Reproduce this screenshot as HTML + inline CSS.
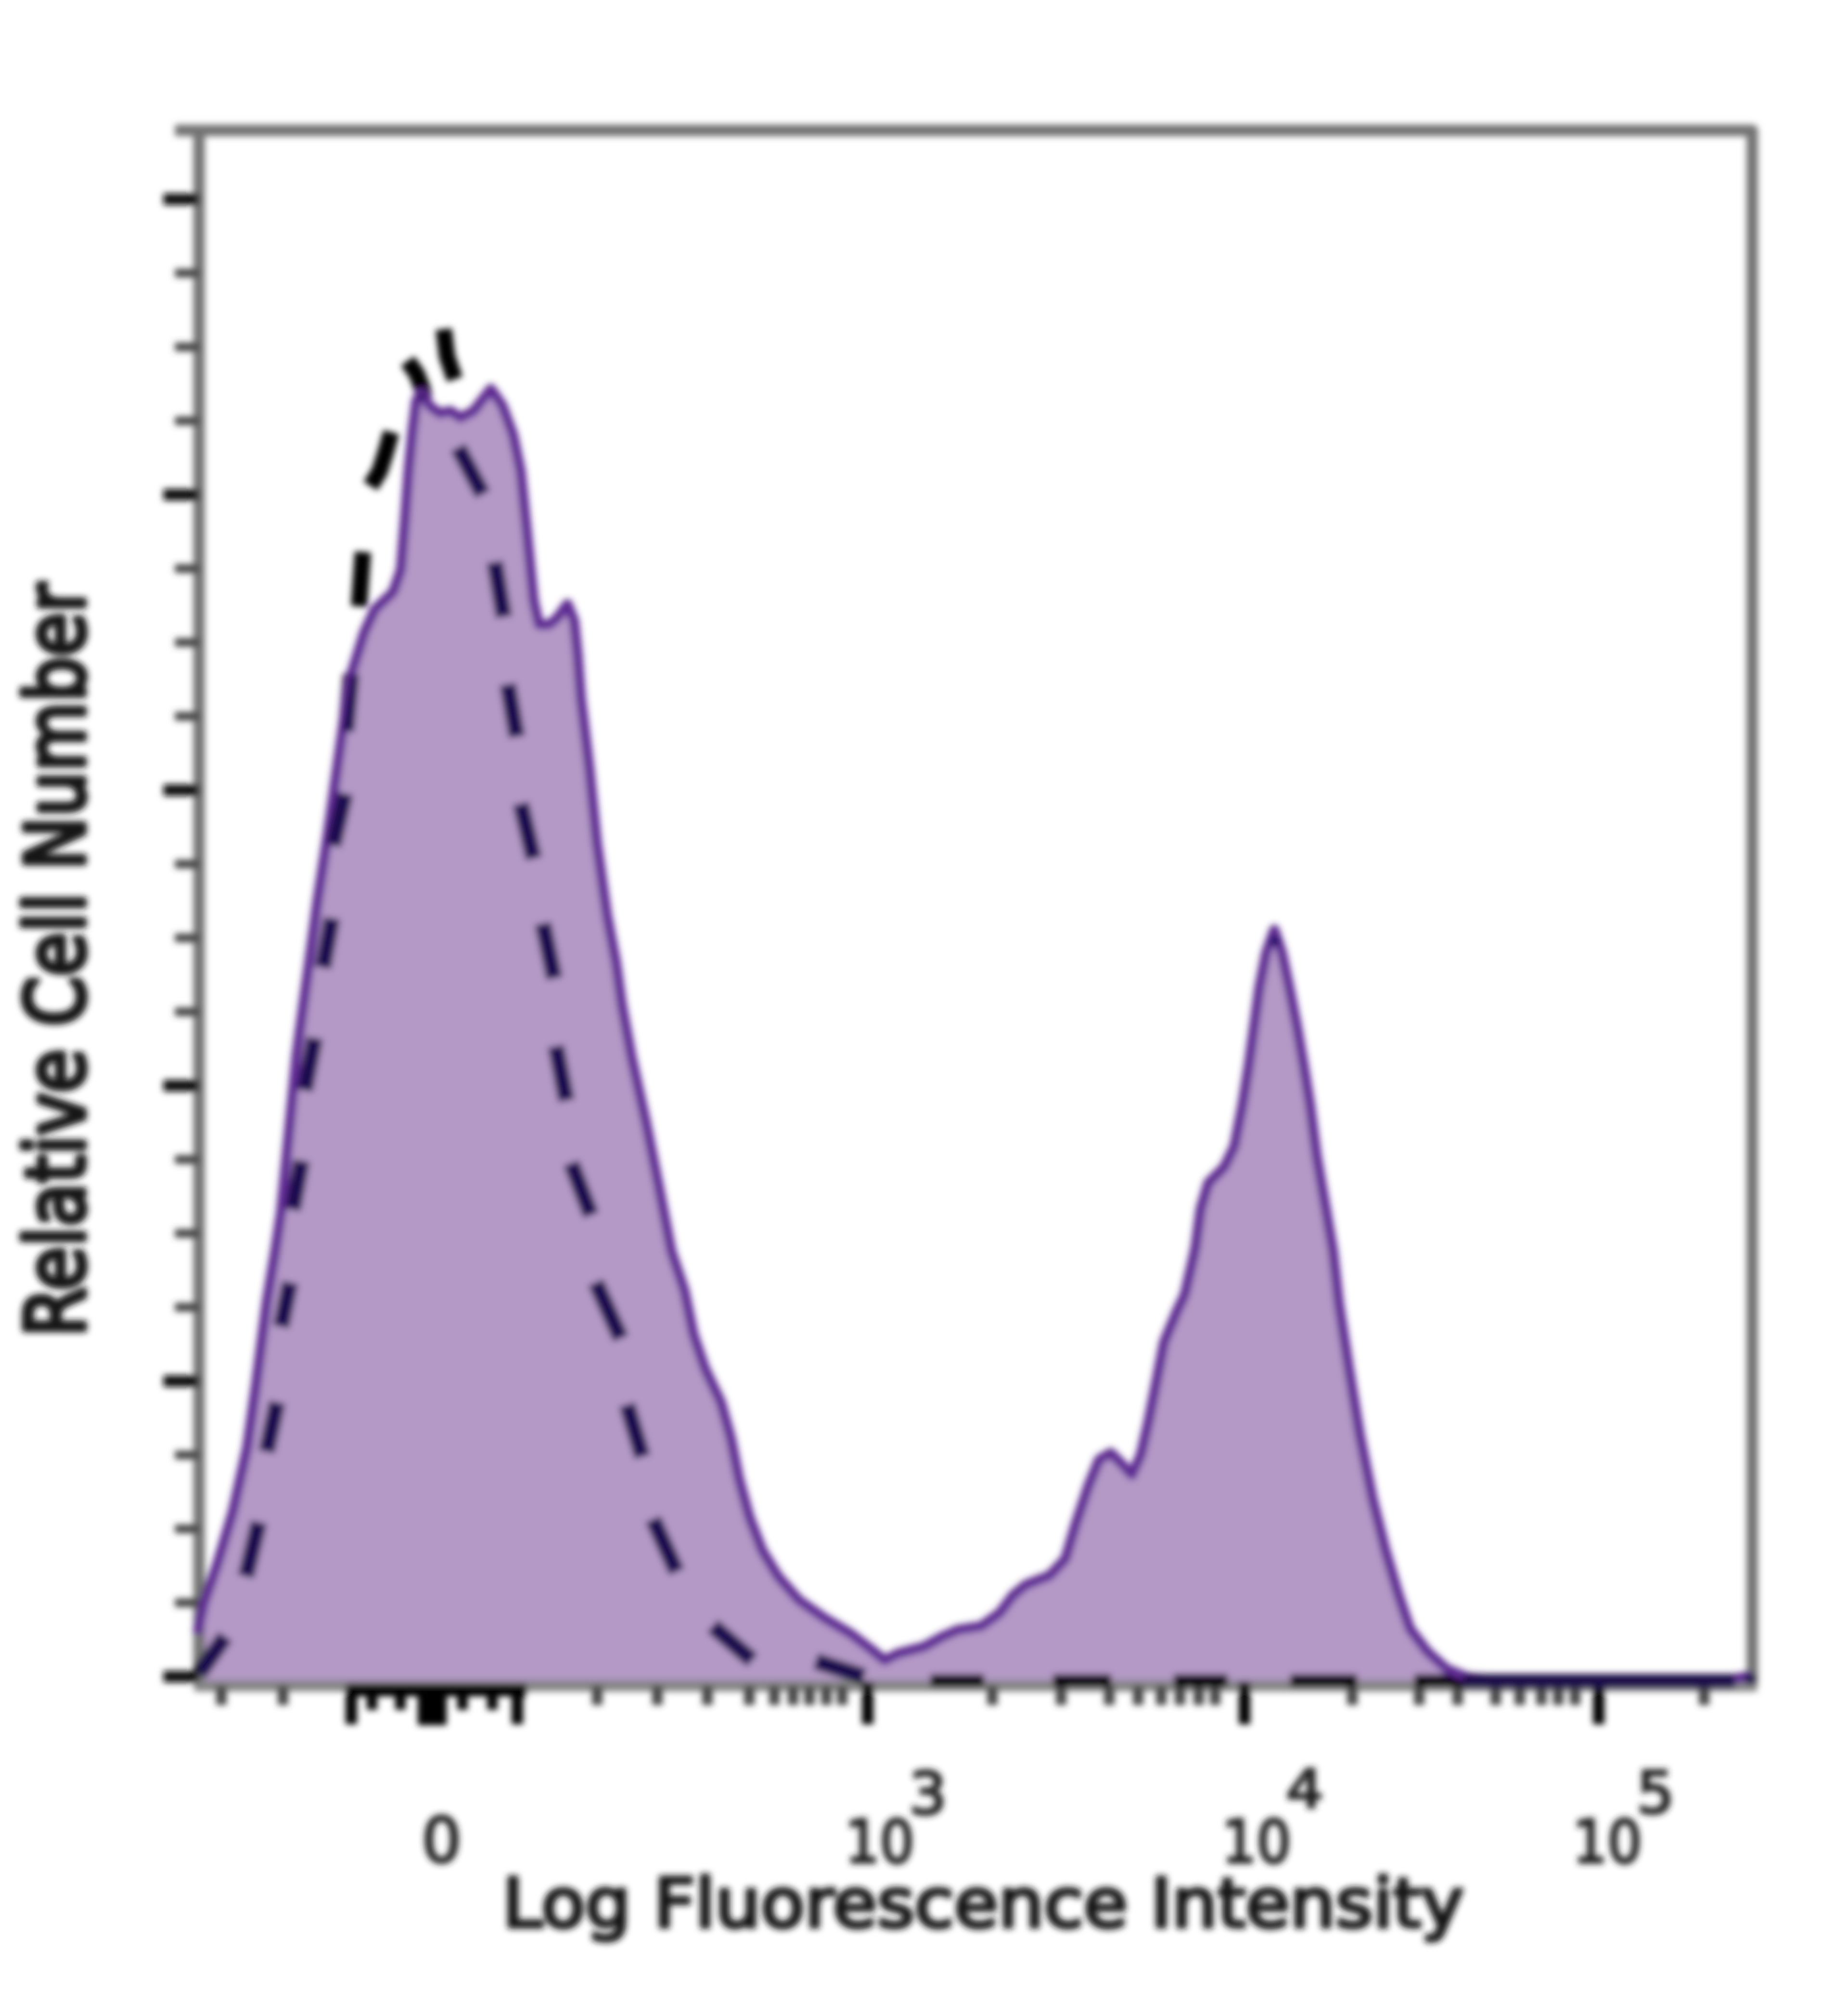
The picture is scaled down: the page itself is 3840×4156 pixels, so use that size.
<!DOCTYPE html>
<html><head><meta charset="utf-8"><title>Histogram</title>
<style>
html,body{margin:0;padding:0;background:#fff;}
body{width:3840px;height:4156px;overflow:hidden;}
svg{display:block;}
text{font-family:"DejaVu Sans","Liberation Sans",sans-serif;fill:#1a1a1a;}
</style></head><body>
<svg width="3840" height="4156" viewBox="0 0 3840 4156">
<defs>
<filter id="b" x="0" y="0" width="3840" height="4156" filterUnits="userSpaceOnUse"><feGaussianBlur stdDeviation="7"/></filter>
<clipPath id="cf"><polygon points="413,3492 410,3395 424,3331 452,3249 484,3141 514,3006 533,2871 554,2708 572,2600 584,2520 600,2358 616,2195 638,2033 660,1871 681,1735 700,1600 719,1466 730,1401 757,1314 779,1266 817,1230 833,1184 841,1087 849,979 857,898 865,833 876,816 892,843 914,859 936,854 957,868 984,854 1020,808 1044,843 1066,903 1082,979 1093,1087 1101,1168 1109,1249 1120,1298 1141,1298 1158,1284 1179,1255 1193,1290 1200,1358 1207,1450 1225,1600 1240,1750 1261,1900 1280,2000 1292,2087 1312,2195 1342,2331 1369,2466 1395,2600 1422,2681 1441,2773 1465,2844 1498,2914 1519,2990 1535,3071 1557,3152 1584,3222 1617,3276 1660,3325 1714,3363 1768,3395 1811,3428 1838,3450 1866,3436 1920,3422 1958,3401 1990,3387 2039,3379 2077,3352 2105,3315 2132,3293 2181,3274 2214,3239 2235,3168 2262,3087 2284,3033 2308,3019 2333,3044 2352,3065 2371,3022 2387,2952 2403,2871 2419,2789 2446,2724 2462,2690 2478,2620 2484,2593 2495,2512 2511,2458 2544,2425 2565,2382 2582,2295 2595,2214 2606,2133 2617,2052 2631,1981 2648,1932 2664,1981 2679,2052 2695,2133 2709,2214 2722,2295 2736,2403 2755,2512 2770,2600 2782,2708 2803,2844 2825,2979 2852,3114 2879,3222 2906,3314 2930,3385 2966,3432 3006,3468 3050,3486 3100,3490 3595,3490 3628,3484 3640,3481 3641,3490 414,3490"/></clipPath>
</defs>
<rect width="3840" height="4156" fill="#fff"/>
<g filter="url(#b)">
<polygon points="413,3492 410,3395 424,3331 452,3249 484,3141 514,3006 533,2871 554,2708 572,2600 584,2520 600,2358 616,2195 638,2033 660,1871 681,1735 700,1600 719,1466 730,1401 757,1314 779,1266 817,1230 833,1184 841,1087 849,979 857,898 865,833 876,816 892,843 914,859 936,854 957,868 984,854 1020,808 1044,843 1066,903 1082,979 1093,1087 1101,1168 1109,1249 1120,1298 1141,1298 1158,1284 1179,1255 1193,1290 1200,1358 1207,1450 1225,1600 1240,1750 1261,1900 1280,2000 1292,2087 1312,2195 1342,2331 1369,2466 1395,2600 1422,2681 1441,2773 1465,2844 1498,2914 1519,2990 1535,3071 1557,3152 1584,3222 1617,3276 1660,3325 1714,3363 1768,3395 1811,3428 1838,3450 1866,3436 1920,3422 1958,3401 1990,3387 2039,3379 2077,3352 2105,3315 2132,3293 2181,3274 2214,3239 2235,3168 2262,3087 2284,3033 2308,3019 2333,3044 2352,3065 2371,3022 2387,2952 2403,2871 2419,2789 2446,2724 2462,2690 2478,2620 2484,2593 2495,2512 2511,2458 2544,2425 2565,2382 2582,2295 2595,2214 2606,2133 2617,2052 2631,1981 2648,1932 2664,1981 2679,2052 2695,2133 2709,2214 2722,2295 2736,2403 2755,2512 2770,2600 2782,2708 2803,2844 2825,2979 2852,3114 2879,3222 2906,3314 2930,3385 2966,3432 3006,3468 3050,3486 3100,3490 3595,3490 3628,3484 3640,3481 3641,3496 414,3496" fill="#b499c6"/>
<g stroke="#737373" stroke-width="24" fill="none" stroke-linecap="butt" stroke-linejoin="round"><path d="M413.6,3503 V271 M363.6,271 H3641 V3503"/><path d="M403.6,3503 H3651" stroke="#868686"/></g>
<g stroke="#0a0a0a" stroke-width="24"><line x1="339.6" y1="414.0" x2="413.6" y2="414.0"/><line x1="363.6" y1="567.5" x2="413.6" y2="567.5" stroke="#444" stroke-width="18"/><line x1="363.6" y1="721.0" x2="413.6" y2="721.0" stroke="#444" stroke-width="18"/><line x1="363.6" y1="874.5" x2="413.6" y2="874.5" stroke="#444" stroke-width="18"/><line x1="339.6" y1="1028.0" x2="413.6" y2="1028.0"/><line x1="363.6" y1="1181.5" x2="413.6" y2="1181.5" stroke="#444" stroke-width="18"/><line x1="363.6" y1="1335.0" x2="413.6" y2="1335.0" stroke="#444" stroke-width="18"/><line x1="363.6" y1="1488.5" x2="413.6" y2="1488.5" stroke="#444" stroke-width="18"/><line x1="339.6" y1="1642.0" x2="413.6" y2="1642.0"/><line x1="363.6" y1="1795.5" x2="413.6" y2="1795.5" stroke="#444" stroke-width="18"/><line x1="363.6" y1="1949.0" x2="413.6" y2="1949.0" stroke="#444" stroke-width="18"/><line x1="363.6" y1="2102.5" x2="413.6" y2="2102.5" stroke="#444" stroke-width="18"/><line x1="339.6" y1="2256.0" x2="413.6" y2="2256.0"/><line x1="363.6" y1="2409.5" x2="413.6" y2="2409.5" stroke="#444" stroke-width="18"/><line x1="363.6" y1="2563.0" x2="413.6" y2="2563.0" stroke="#444" stroke-width="18"/><line x1="363.6" y1="2716.5" x2="413.6" y2="2716.5" stroke="#444" stroke-width="18"/><line x1="339.6" y1="2870.0" x2="413.6" y2="2870.0"/><line x1="363.6" y1="3023.5" x2="413.6" y2="3023.5" stroke="#444" stroke-width="18"/><line x1="363.6" y1="3177.0" x2="413.6" y2="3177.0" stroke="#444" stroke-width="18"/><line x1="363.6" y1="3330.5" x2="413.6" y2="3330.5" stroke="#444" stroke-width="18"/><line x1="339.6" y1="3484.0" x2="413.6" y2="3484.0"/></g>
<g stroke="#444" stroke-width="22"><line x1="460" y1="3503" x2="460" y2="3543"/><line x1="588" y1="3503" x2="588" y2="3543"/><line x1="1241" y1="3503" x2="1241" y2="3543"/><line x1="1366" y1="3503" x2="1366" y2="3543"/><line x1="1470" y1="3503" x2="1470" y2="3543"/><line x1="1557" y1="3503" x2="1557" y2="3543"/><line x1="1609" y1="3503" x2="1609" y2="3543"/><line x1="1648" y1="3503" x2="1648" y2="3543"/><line x1="1682" y1="3503" x2="1682" y2="3543"/><line x1="1717" y1="3503" x2="1717" y2="3543"/><line x1="1750" y1="3503" x2="1750" y2="3543"/><line x1="2062" y1="3503" x2="2062" y2="3543"/><line x1="2205" y1="3503" x2="2205" y2="3543"/><line x1="2305" y1="3503" x2="2305" y2="3543"/><line x1="2365" y1="3503" x2="2365" y2="3543"/><line x1="2413" y1="3503" x2="2413" y2="3543"/><line x1="2452" y1="3503" x2="2452" y2="3543"/><line x1="2491" y1="3503" x2="2491" y2="3543"/><line x1="2525" y1="3503" x2="2525" y2="3543"/><line x1="2810" y1="3503" x2="2810" y2="3543"/><line x1="2949" y1="3503" x2="2949" y2="3543"/><line x1="3029" y1="3503" x2="3029" y2="3543"/><line x1="3108" y1="3503" x2="3108" y2="3543"/><line x1="3158" y1="3503" x2="3158" y2="3543"/><line x1="3203" y1="3503" x2="3203" y2="3543"/><line x1="3238" y1="3503" x2="3238" y2="3543"/><line x1="3273" y1="3503" x2="3273" y2="3543"/><line x1="3541" y1="3503" x2="3541" y2="3543"/></g>
<g stroke="#000" stroke-width="24"><line x1="1803" y1="3495" x2="1803" y2="3583"/><line x1="2586" y1="3495" x2="2586" y2="3583"/><line x1="3322" y1="3495" x2="3322" y2="3583"/></g>
<g stroke="#000" stroke-width="24"><line x1="730" y1="3503" x2="730" y2="3583"/><line x1="1075" y1="3503" x2="1075" y2="3583"/><line x1="773" y1="3503" x2="773" y2="3553" stroke-width="22"/><line x1="832" y1="3503" x2="832" y2="3553" stroke-width="22"/><line x1="961" y1="3503" x2="961" y2="3553" stroke-width="22"/><line x1="1023" y1="3503" x2="1023" y2="3553" stroke-width="22"/><rect x="868" y="3503" width="60" height="82" fill="#000" stroke="none"/><rect x="722" y="3499" width="372" height="26" fill="#000" stroke="none"/></g>
<g stroke="#000" stroke-width="34" fill="none" stroke-linecap="butt" stroke-linejoin="round"><polyline points="468,3401 414,3477"/><polyline points="538,3163 511,3276"/><polyline points="576,2914 554,3017"/><polyline points="603,2665 584,2757"/><polyline points="627,2412 608,2514"/><polyline points="654,2157 633,2266"/><polyline points="690,1908 671,2011"/><polyline points="717,1649 692,1757"/><polyline points="730,1401 719,1520"/><polyline points="754,1147 746,1260"/><polyline points="813,898 802,938 789,979 770,1010"/><polyline points="847,750 866,777 877,806 881,830"/><polyline points="922,684 929,741 945,788"/><polyline points="952,930 1003,1027"/><polyline points="1028,1168 1047,1282"/><polyline points="1055,1422 1074,1531"/><polyline points="1082,1670 1109,1784"/><polyline points="1128,1919 1152,2033"/><polyline points="1155,2174 1177,2287"/><polyline points="1187,2417 1228,2525"/><polyline points="1238,2665 1290,2781"/><polyline points="1303,2919 1335,3027"/><polyline points="1357,3157 1406,3266"/><polyline points="1481,3379 1563,3450"/><polyline points="1695,3452 1795,3484"/><polyline points="1933,3492 2045,3492" stroke-width="26"/><polyline points="2188,3492 2309,3492" stroke-width="26"/><polyline points="2439,3492 2551,3492" stroke-width="26"/><polyline points="2681,3492 2820,3492" stroke-width="26"/><polyline points="2939,3492 3049,3492" stroke-width="26"/></g>
<polyline points="410,3395 424,3331 452,3249 484,3141 514,3006 533,2871 554,2708 572,2600 584,2520 600,2358 616,2195 638,2033 660,1871 681,1735 700,1600 719,1466 730,1401 757,1314 779,1266 817,1230 833,1184 841,1087 849,979 857,898 865,833 876,816 892,843 914,859 936,854 957,868 984,854 1020,808 1044,843 1066,903 1082,979 1093,1087 1101,1168 1109,1249 1120,1298 1141,1298 1158,1284 1179,1255 1193,1290 1200,1358 1207,1450 1225,1600 1240,1750 1261,1900 1280,2000 1292,2087 1312,2195 1342,2331 1369,2466 1395,2600 1422,2681 1441,2773 1465,2844 1498,2914 1519,2990 1535,3071 1557,3152 1584,3222 1617,3276 1660,3325 1714,3363 1768,3395 1811,3428 1838,3450 1866,3436 1920,3422 1958,3401 1990,3387 2039,3379 2077,3352 2105,3315 2132,3293 2181,3274 2214,3239 2235,3168 2262,3087 2284,3033 2308,3019 2333,3044 2352,3065 2371,3022 2387,2952 2403,2871 2419,2789 2446,2724 2462,2690 2478,2620 2484,2593 2495,2512 2511,2458 2544,2425 2565,2382 2582,2295 2595,2214 2606,2133 2617,2052 2631,1981 2648,1932 2664,1981 2679,2052 2695,2133 2709,2214 2722,2295 2736,2403 2755,2512 2770,2600 2782,2708 2803,2844 2825,2979 2852,3114 2879,3222 2906,3314 2930,3385 2966,3432 3006,3468 3050,3486 3100,3490 3595,3490 3628,3484 3640,3481" fill="none" stroke="#5e2b93" stroke-width="21" stroke-linejoin="round"/>
<g stroke="#1c0c50" stroke-width="33" fill="none" clip-path="url(#cf)"><polyline points="468,3401 414,3477"/><polyline points="538,3163 511,3276"/><polyline points="576,2914 554,3017"/><polyline points="603,2665 584,2757"/><polyline points="627,2412 608,2514"/><polyline points="654,2157 633,2266"/><polyline points="690,1908 671,2011"/><polyline points="717,1649 692,1757"/><polyline points="730,1401 719,1520"/><polyline points="754,1147 746,1260"/><polyline points="813,898 802,938 789,979 770,1010"/><polyline points="847,750 866,777 877,806 881,830"/><polyline points="922,684 929,741 945,788"/><polyline points="952,930 1003,1027"/><polyline points="1028,1168 1047,1282"/><polyline points="1055,1422 1074,1531"/><polyline points="1082,1670 1109,1784"/><polyline points="1128,1919 1152,2033"/><polyline points="1155,2174 1177,2287"/><polyline points="1187,2417 1228,2525"/><polyline points="1238,2665 1290,2781"/><polyline points="1303,2919 1335,3027"/><polyline points="1357,3157 1406,3266"/><polyline points="1481,3379 1563,3450"/><polyline points="1695,3452 1795,3484"/></g>
<line x1="3040" y1="3493" x2="3605" y2="3493" stroke="#1e0f4a" stroke-width="29"/><circle cx="2649" cy="1956" r="11" fill="#24166a"/><circle cx="3637" cy="3489" r="12" fill="#1e0f4a"/>
<g stroke="#151515" stroke-width="8" stroke-linejoin="round" fill="#151515"><text transform="translate(1044,4004) scale(1,0.94)" font-size="149.5">Log Fluorescence Intensity</text>
<text transform="translate(175,2778) rotate(-90) scale(1.006,1.15)" font-size="147.5" stroke-width="10">Relative Cell Number</text>
</g><g stroke="#262626" stroke-width="5" fill="#262626"><text x="917.5" y="3869" font-size="130" text-anchor="middle">0</text>
<text transform="translate(1756,3870) scale(1,1.08)" font-size="113">10</text><text transform="translate(1889,3769) scale(1.12,1.1)" font-size="110">3</text>
<text transform="translate(2539,3870) scale(1,1.08)" font-size="113">10</text><text transform="translate(2672,3756) scale(1.12,1.0)" font-size="110">4</text>
<text transform="translate(3268,3870) scale(1,1.08)" font-size="113">10</text><text transform="translate(3401,3767) scale(1.12,1.1)" font-size="110">5</text>
</g></g>
</svg>
</body></html>
